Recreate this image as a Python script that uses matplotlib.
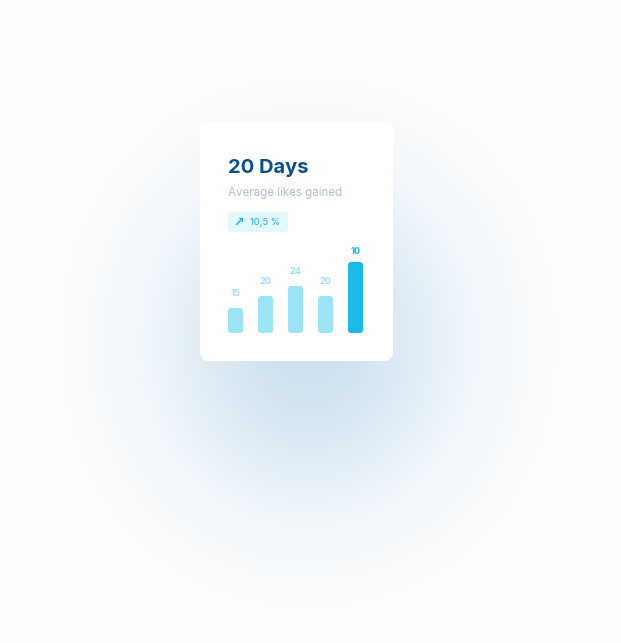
import math
import numpy as np
import matplotlib
matplotlib.use("Agg")
import matplotlib.pyplot as plt
from matplotlib.patches import FancyBboxPatch

# ------------------------------------------------------------
# Data
# ------------------------------------------------------------
TITLE = "20 Days"
SUBTITLE = "Average likes gained"
BADGE = "10,5 %"

bar_heights = [25, 37, 47, 37, 71]
bar_labels = ["15", "20", "24", "20", "10"]
highlight_idx = 4

# ------------------------------------------------------------
# Style
# ------------------------------------------------------------
W, H = 621, 643
FONT = ["Inter", "DejaVu Sans"]
TITLE_COLOR = "#0c4f8b"
SUB_COLOR = "#b3bfcc"
BAR_LIGHT = "#9de3f8"
BAR_DARK = "#1bb9e8"
LABEL_LIGHT = "#9fdff4"
BADGE_BG = "#e1f8fd"
BADGE_FG = "#22b4df"

CARD = (200, 122, 193, 239)   # x, y, w, h in pixels


def glow_background():
    # soft blue shadow under the card (blurred, offset rectangle)
    sx0, sy0 = CARD[0] + 12, CARD[1] + 100
    sx1, sy1 = sx0 + CARD[2], sy0 + CARD[3]
    sig = 90.0 * math.sqrt(2)
    xs = np.array([0.5 * (math.erf((x - sx0) / sig) - math.erf((x - sx1) / sig)) for x in range(W)])
    ys = np.array([0.5 * (math.erf((y - sy0) / sig) - math.erf((y - sy1) / sig)) for y in range(H)])
    s = np.outer(ys, xs)
    s = s / s.max()
    peak = np.array([206, 225, 240]) / 255.0
    img = 1.0 - s[..., None] * (1.0 - peak)[None, None, :]
    return np.clip(img, 0, 1)


fig = plt.figure(figsize=(W / 100, H / 100), dpi=100)

bg = fig.add_axes([0, 0, 1, 1])
bg.set_xlim(0, W)
bg.set_ylim(H, 0)
bg.axis("off")
bg.imshow(glow_background(), extent=(0, W, H, 0), aspect="auto", zorder=0)

# card
cx, cy, cw, ch = CARD
bg.add_patch(FancyBboxPatch((cx, cy), cw, ch, boxstyle="round,pad=0,rounding_size=9",
                            fc="white", ec="none", zorder=1))

# header texts
bg.text(228, 173, TITLE, fontsize=14.5, fontweight="bold", color=TITLE_COLOR,
        family=FONT, va="baseline", ha="left", zorder=2)
bg.text(228, 196, SUBTITLE, fontsize=8.3, color=SUB_COLOR,
        family=FONT, va="baseline", ha="left", zorder=2)

# badge
bg.add_patch(FancyBboxPatch((228, 212), 60, 20, boxstyle="round,pad=0,rounding_size=4",
                            fc=BADGE_BG, ec="none", zorder=2))
bg.text(239, 222, "\u2197", fontsize=9, fontweight="bold", color=BADGE_FG,
        family=["DejaVu Sans"], va="center", ha="center", zorder=3)
bg.text(250, 222.5, BADGE, fontsize=6.8, color=BADGE_FG, family=FONT,
        va="center", ha="left", zorder=3)

# bar chart
ax = fig.add_axes([220.5 / W, 1 - 333 / H, 150 / W, 90 / H])
ax.set_xlim(-0.5, 4.5)
ax.set_ylim(0, 90)
ax.axis("off")
ax.patch.set_alpha(0)

x_px_per_unit = 30.0
for i, (h, lab) in enumerate(zip(bar_heights, bar_labels)):
    dark = i == highlight_idx
    ax.add_patch(FancyBboxPatch((i - 0.25, 0), 0.5, h,
                                boxstyle="round,pad=0,rounding_size=0.11",
                                mutation_aspect=x_px_per_unit,
                                fc=BAR_DARK if dark else BAR_LIGHT, ec="none"))
    ax.annotate(lab, (i, h), xytext=(0, 14 if not dark else 10), textcoords="offset pixels",
                ha="center", va="center", fontsize=6.6, fontweight="bold",
                color=BAR_DARK if dark else LABEL_LIGHT, family=FONT,
                annotation_clip=False)

fig.savefig("out.png", dpi=100)
